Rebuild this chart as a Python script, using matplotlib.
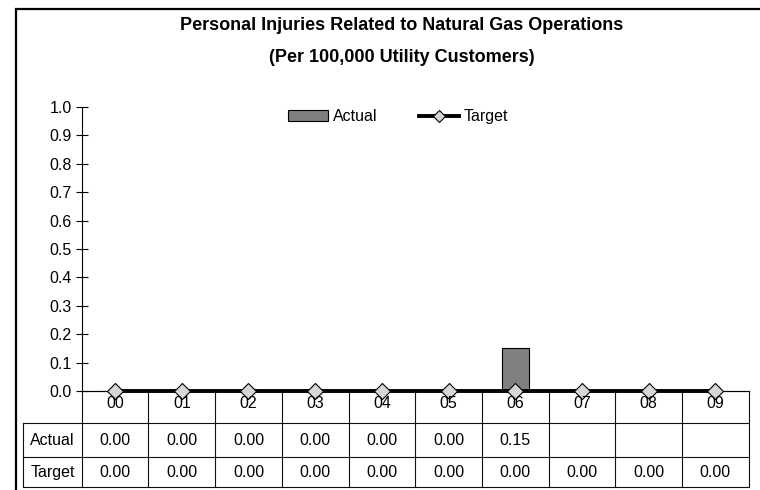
import matplotlib
matplotlib.use("Agg")
import matplotlib.pyplot as plt
import matplotlib.transforms as mtransforms
from matplotlib.patches import Rectangle
from matplotlib.lines import Line2D
import numpy as np

plt.rcParams["font.family"] = ["Liberation Sans", "DejaVu Sans"]

# chart data
years = ["00", "01", "02", "03", "04", "05", "06", "07", "08", "09"]
actual = [0.00, 0.00, 0.00, 0.00, 0.00, 0.00, 0.15, None, None, None]
target = [0.00, 0.00, 0.00, 0.00, 0.00, 0.00, 0.00, 0.00, 0.00, 0.00]
title_lines = ["Personal Injuries Related to Natural Gas Operations",
               "(Per 100,000 Utility Customers)"]
row_labels = ["Actual", "Target"]

W, H = 760, 490
fs = 11.5
fig = plt.figure(figsize=(W / 100, H / 100), dpi=100)
fig.patch.set_facecolor("white")

# outer chart frame (runs off the right and bottom edge)
fig.add_artist(Rectangle((16 / W, -0.1), 1.2, 1.1 - 9.3 / H,
                         transform=fig.transFigure, fill=False,
                         edgecolor="black", linewidth=1.6))

ax = fig.add_axes([81.7 / W, (H - 391) / H, 667 / W, 284 / H])
x = np.arange(len(years))

act_x = [i for i, v in zip(x, actual) if v is not None]
act_v = [v for v in actual if v is not None]
ax.bar(act_x, act_v, width=0.41, color="#808080",
       edgecolor="black", linewidth=0.8, zorder=2)
ax.plot(x, target, color="black", linewidth=2.8, marker="D",
        markersize=8.5, markerfacecolor="#d6d6d6",
        markeredgecolor="black", markeredgewidth=0.8,
        zorder=3, clip_on=False)

ax.set_xlim(-0.5, len(years) - 0.5)
ax.set_ylim(0, 1.0)
ticks = np.arange(0, 1.01, 0.1)
ax.set_yticks(ticks)
ax.set_yticklabels([f"{v:.1f}" for v in ticks], fontsize=fs)
ax.set_xticks([])
ax.tick_params(axis="y", direction="inout", length=8, width=0.8, pad=3)
for s in ["top", "right"]:
    ax.spines[s].set_visible(False)
ax.spines["left"].set_linewidth(0.8)
ax.spines["bottom"].set_linewidth(0.8)

# legend
handles = [Rectangle((0, 0), 1, 1, facecolor="#808080", edgecolor="black", linewidth=0.8),
           Line2D([], [], color="black", linewidth=2.8, marker="D", markersize=6.5,
                  markerfacecolor="#d6d6d6", markeredgecolor="black", markeredgewidth=0.8)]
ax.legend(handles, ["Actual", "Target"], loc="center", bbox_to_anchor=(0.474, 0.965),
          ncol=2, frameon=False, fontsize=fs, handlelength=2.5, handleheight=0.7,
          handletextpad=0.3, columnspacing=2.6)

# data table under the axis
tr = mtransforms.blended_transform_factory(ax.transData, ax.transAxes)
px = 1 / 284
rows_y = [0.0, -(423.3 - 391) * px, -(457.3 - 391) * px, -(487 - 391) * px]
left_x = -0.5 - (81.7 - 23.3) / 66.7
right_x = len(years) - 0.5
lc = "#111111"
lw = 0.8
for k in range(len(years) + 1):
    ax.plot([k - 0.5, k - 0.5], [rows_y[0], rows_y[3]], color=lc, lw=lw,
            transform=tr, clip_on=False)
ax.plot([left_x, left_x], [rows_y[1], rows_y[3]], color=lc, lw=lw, transform=tr, clip_on=False)
ax.plot([-0.5, right_x], [rows_y[0], rows_y[0]], color=lc, lw=lw, transform=tr, clip_on=False)
for yy in rows_y[1:]:
    ax.plot([left_x, right_x], [yy, yy], color=lc, lw=lw, transform=tr, clip_on=False)

for i, lab in enumerate(years):
    ax.text(i, -0.018, lab, ha="center", va="top", fontsize=fs, transform=tr)

for r, (lab, vals) in enumerate(zip(row_labels, [actual, target])):
    yc = (rows_y[r + 1] + rows_y[r + 2]) / 2
    ax.text((left_x - 0.5) / 2, yc, lab, ha="center", va="center", fontsize=fs, transform=tr)
    for i, v in enumerate(vals):
        if v is not None:
            ax.text(i, yc, f"{v:.2f}", ha="center", va="center", fontsize=fs, transform=tr)

# title
fig.text(402 / W, 1 - 26 / H, title_lines[0], ha="center", va="center",
         fontsize=13, fontweight="bold")
fig.text(402 / W, 1 - 58 / H, title_lines[1], ha="center", va="center",
         fontsize=13, fontweight="bold")

fig.savefig("out.png", dpi=100)
